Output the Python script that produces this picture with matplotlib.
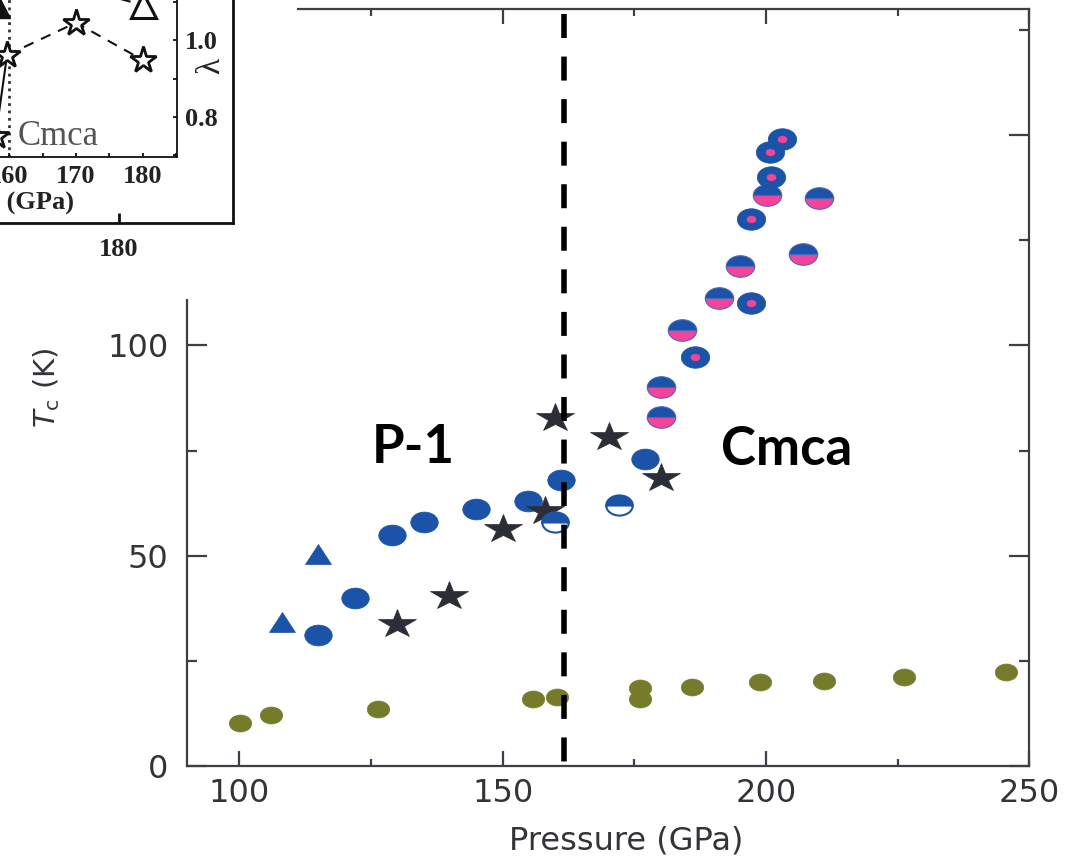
import matplotlib
matplotlib.use("Agg")
import matplotlib.pyplot as plt
from matplotlib.markers import MarkerStyle
from matplotlib.transforms import Affine2D
from matplotlib.patches import Rectangle
from matplotlib.ticker import MultipleLocator

plt.rcParams['font.family'] = ['DejaVu Sans']
plt.rcParams['mathtext.fontset'] = 'dejavusans'

# ── data: Tc (K) versus pressure (GPa) ────────────────────────────────────────

tri_p = [108.1, 115.0]
tri_tc = [34.3, 50.4]

blue_p = [115.0, 122.0, 129.0, 135.0, 145.0, 154.9, 161.1, 177.1]
blue_tc = [31.0, 40.0, 54.9, 58.0, 61.0, 63.0, 68.0, 73.0]

star_p = [129.9, 139.9, 150.1, 158.1, 160.0, 170.2, 180.0]
star_tc = [33.7, 40.4, 56.3, 60.5, 82.7, 78.2, 68.5]

half_white_p = [160.0, 172.1]
half_white_tc = [58.1, 62.1]

half_pink_p = [180.0, 180.0, 184.1, 191.1, 195.1, 200.1, 207.0, 210.1]
half_pink_tc = [83.0, 90.1, 103.6, 111.4, 119.0, 135.9, 121.8, 135.1]

dot_p = [186.6, 197.1, 197.1, 200.9, 200.7, 203.1]
dot_tc = [97.3, 110.1, 130.2, 140.1, 146.0, 149.1]

olive_p = [100.2, 106.1, 126.3, 155.8, 160.4, 176.0, 176.0, 186.0, 198.9, 211.1, 226.3, 245.5]
olive_tc = [10.1, 12.0, 13.5, 15.9, 16.3, 18.4, 15.9, 18.8, 20.0, 20.2, 21.1, 22.2]

phase_boundary = 161.7

# small lambda panel (top left)
lam_star_p = [159.7, 170.0, 180.0]
lam_star = [0.961, 1.045, 0.948]
lam_low_p = [158.0, 159.7]
lam_low = [0.75, 0.961]
lam_tri_p = [173.6, 180.0]
lam_tri = [1.121, 1.091]
lam_tri_left_p = [158.2]
lam_tri_left = [1.09]

BLUE = '#1a53a8'
PINK = '#f24499'
OLIVE = '#767b2b'
DARK = '#2b2e36'
FRAME = '#3c3f46'
TEXT = '#333438'

W, H = 1091, 858


def px_box(left, top, right, bottom):
    return [left / W, 1 - bottom / H, (right - left) / W, (bottom - top) / H]


stretch = Affine2D().scale(1.32, 1.0)


def mk(m, fill='full'):
    return MarkerStyle(m, fillstyle=fill, transform=stretch)


fig = plt.figure(figsize=(W / 100, H / 100), dpi=100)
ax = fig.add_axes(px_box(186.7, 9.3, 1029.3, 765.7))

# ── main panel ────────────────────────────────────────────────────────────────

ax.plot(olive_p, olive_tc, ls='none', marker=mk('o'), ms=12.2,
        mfc=OLIVE, mec=OLIVE, mew=0.5, zorder=3)
ax.plot(blue_p, blue_tc, ls='none', marker=mk('o'), ms=15,
        mfc=BLUE, mec=BLUE, mew=0.5, zorder=3)
ax.plot(tri_p, tri_tc, ls='none', marker=mk('^'), ms=14,
        mfc=BLUE, mec=BLUE, mew=0.5, zorder=3)
ax.plot(star_p, star_tc, ls='none', marker=mk('*'), ms=21.5,
        mfc=DARK, mec=DARK, mew=0.5, zorder=4)
ax.plot(half_white_p, half_white_tc, ls='none', marker=mk('o', 'top'), ms=14.5,
        mfc=BLUE, mfcalt='white', mec=BLUE, mew=1.5, zorder=5)
ax.plot(half_pink_p, half_pink_tc, ls='none', marker=mk('o', 'top'), ms=15.5,
        mfc=BLUE, mfcalt=PINK, mec='#4c66bd', mew=0.8, zorder=5)
ax.plot(dot_p, dot_tc, ls='none', marker=mk('o'), ms=15.5,
        mfc=BLUE, mec=BLUE, mew=0.5, zorder=5)
ax.plot(dot_p, dot_tc, ls='none', marker=mk('o'), ms=5,
        mfc=PINK, mec=PINK, mew=0.3, zorder=5)

ax.plot([phase_boundary, phase_boundary], [178.9, 0.9], color='black', lw=4,
        ls=(0, (4.32, 3.34)), zorder=6)

ax.text(133.0, 72.0, 'P-1', fontfamily='Lato', fontweight='bold', fontsize=38,
        ha='center', va='baseline', color='black', zorder=7)
ax.text(203.9, 71.6, 'Cmca', fontfamily='Lato', fontweight='bold', fontsize=38,
        ha='center', va='baseline', color='black', zorder=7)

ax.set_xlim(90, 250)
ax.set_ylim(0, 180)
ax.xaxis.set_major_locator(MultipleLocator(50))
ax.xaxis.set_minor_locator(MultipleLocator(25))
ax.yaxis.set_major_locator(MultipleLocator(50))
ax.yaxis.set_minor_locator(MultipleLocator(25))

for s in ax.spines.values():
    s.set_color(FRAME)
    s.set_linewidth(1.6)

ax.tick_params(which='both', direction='in', top=True, right=True,
               color=FRAME, width=1.6, labelcolor=TEXT, labelsize=23)
ax.tick_params(axis='x', which='major', length=10.5, pad=9)
ax.tick_params(axis='x', which='minor', length=5.2)
ax.tick_params(axis='y', which='major', length=14.4, pad=13)
ax.tick_params(axis='y', which='minor', length=7.2)

ax.set_xlabel('Pressure (GPa)', fontsize=23, color=TEXT)
ax.xaxis.set_label_coords(0.521, -0.079)
ax.set_ylabel(r'$T_{\rm c}$ (K)', fontsize=21, color=TEXT)
ax.yaxis.set_label_coords(-0.148, 0.5)

# white backing for the lambda panel
fig.add_artist(Rectangle((0, 1 - 299 / H), 297 / W, 299 / H,
                         transform=fig.transFigure, facecolor='white',
                         edgecolor='none', zorder=5))

# ── lambda panel: outer frame ─────────────────────────────────────────────────

serif = dict(fontfamily='Liberation Serif', fontweight='bold')

ax_o = fig.add_axes(px_box(-337, -200, 233, 223), zorder=6)
ax_o.set_facecolor('none')
ax_o.spines[['top', 'left']].set_visible(False)
for s in ax_o.spines.values():
    s.set_linewidth(2)
    s.set_color('#111111')
ax_o.set_xlim(140, 190)
ax_o.set_ylim(0, 1)
ax_o.set_xticks([180], labels=['180'], fontsize=19, color='#222222', **serif)
ax_o.set_yticks([])
ax_o.tick_params(axis='x', direction='in', length=7, width=2, pad=11,
                 color='#111111')

# ── lambda panel: inner plot ──────────────────────────────────────────────────

ax_i = fig.add_axes(px_box(-100, -100, 177, 157), zorder=7)
ax_i.set_facecolor('none')
ax_i.spines[['top', 'left']].set_visible(False)
for s in ax_i.spines.values():
    s.set_linewidth(1.3)
    s.set_color('#111111')
ax_i.set_xlim(143.7, 185.1)
ax_i.set_ylim(0.696, 1.364)
ax_i.yaxis.tick_right()
ax_i.set_xticks([160, 170, 180], labels=['160', '170', '180'], fontsize=19,
                color='#222222', **serif)
ax_i.set_yticks([0.8, 1.0], labels=['0.8', '1.0'], fontsize=19,
                color='#222222', **serif)
ax_i.xaxis.set_minor_locator(MultipleLocator(5))
ax_i.yaxis.set_minor_locator(MultipleLocator(0.1))
ax_i.tick_params(which='both', direction='in', length=3, width=1.3,
                 color='#111111')
ax_i.tick_params(axis='x', pad=6)
ax_i.tick_params(axis='y', pad=6)

ax_i.axvline(160, color='#333333', lw=2, ls=':', zorder=1)
ax_i.plot(lam_low_p, lam_low, color='#111111', lw=1.5, zorder=2)
ax_i.plot(lam_star_p, lam_star, color='#111111', lw=1.5, ls=(0, (5, 4)),
          marker='*', ms=20, mfc='white', mec='#111111', mew=2, zorder=3)
ax_i.plot(lam_low_p[:1], lam_low[:1], ls='none', marker='*', ms=20,
          mfc='white', mec='#111111', mew=2, zorder=3)
ax_i.plot(lam_tri_p, lam_tri, color='#111111', lw=1.5, ls=(0, (5, 4)), zorder=2)
ax_i.plot(lam_tri_p[1:], lam_tri[1:], ls='none', marker='^', ms=18,
          mfc='white', mec='#111111', mew=2.2, zorder=3)
ax_i.plot(lam_tri_left_p, lam_tri_left, ls='none', marker='^', ms=18,
          mfc='#111111', mec='#111111', zorder=3)

ax_i.text(161.3, 0.727, 'Cmca', fontfamily='Liberation Serif', fontsize=25,
          color='#555555', ha='left', va='baseline')

ax_i.set_xlabel('Pressure (GPa)', fontsize=19, color='#222222', **serif)
ax_i.xaxis.label.set_ha('right')
ax_i.xaxis.set_label_coords((74 + 100) / 277, -0.135)
ax_i.yaxis.set_label_position('right')
ax_i.set_ylabel('λ', fontsize=24, color='#222222', rotation=90,
                fontfamily='Liberation Serif')
ax_i.yaxis.set_label_coords(1.068, 0.354)

fig.savefig('out.png', dpi=100)
